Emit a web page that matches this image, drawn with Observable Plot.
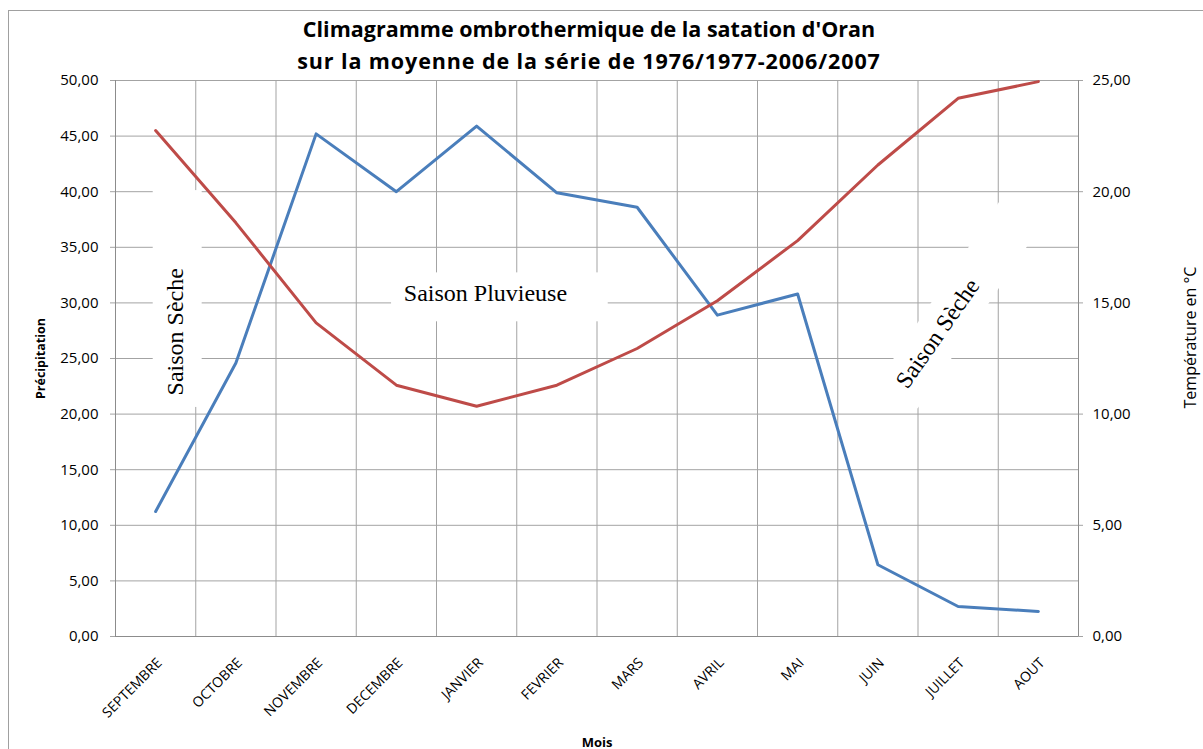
<!DOCTYPE html>
<html><head><meta charset="utf-8">
<script src="https://cdn.jsdelivr.net/npm/d3@7"></script>
<script src="https://cdn.jsdelivr.net/npm/@observablehq/plot@0.6"></script>
<style>
html,body{margin:0;padding:0;background:#fff;overflow:hidden;width:1203px;height:749px;}
#frame{position:absolute;left:8px;top:10px;width:1400px;height:1000px;border:1px solid #a0a0a0;box-sizing:border-box}
#chart{position:absolute;left:0;top:0;width:1203px;}
#title{height:76px;box-sizing:border-box;padding-top:13px;width:1178px;text-align:center;font:bold 21.5px/32px "Open Sans";color:#000;white-space:nowrap}
#title .l2{letter-spacing:0.9px}
#chart svg{display:block;background:transparent}
</style></head>
<body><div id="frame"></div>
<div id="chart"><div id="title"><span class="l1">Climagramme ombrothermique de la satation d'Oran</span><br><span class="l2">sur la moyenne de la série de 1976/1977-2006/2007</span></div></div>
<script>
// ---- data ----
const months = ["SEPTEMBRE","OCTOBRE","NOVEMBRE","DECEMBRE","JANVIER","FEVRIER","MARS","AVRIL","MAI","JUIN","JUILLET","AOUT"];
const precipitation = [11.24, 24.6, 45.2, 40.0, 45.9, 39.9, 38.6, 28.9, 30.8, 6.45, 2.7, 2.25];
const temperature = [22.75, 18.6, 14.1, 11.3, 10.35, 11.3, 12.95, 15.1, 17.8, 21.2, 24.2, 24.95];
const precipTicks = [0, 5, 10, 15, 20, 25, 30, 35, 40, 45, 50];
const tempTicks = [0, 5, 10, 15, 20, 25];

const rows = months.map((m, i) => ({i, month: m, precip: precipitation[i], temp: temperature[i]}));
const fmt = d => d3.format(".2f")(d).replace(".", ",");
const tempToPrecip = t => t * 2;

const W = 1203, mL = 115, mR = 125, mT = 4, mB = 113, H = 749 - 76;
const unitPx = (W - mL - mR) / months.length;
const tickLen = 5 / unitPx;
const boundaries = d3.range(months.length + 1).map(k => k - 0.5);
const grid = "#a3a3a3";

const plot = Plot.plot({
  width: W, height: H,
  marginLeft: mL, marginRight: mR, marginTop: mT, marginBottom: mB,
  style: {fontFamily: "Open Sans", background: "transparent", overflow: "visible"},
  x: {domain: [-0.5, months.length - 0.5], axis: null},
  y: {domain: [0, 50], axis: null},
  marks: [
    Plot.ruleX(boundaries, {x: d => d, y1: 0, y2: 50, stroke: grid, strokeWidth: 1}),
    Plot.ruleY(precipTicks, {y: d => d, x1: -0.5 - tickLen, x2: months.length - 0.5, stroke: grid, strokeWidth: 1}),
    Plot.ruleY(tempTicks, {y: tempToPrecip, x1: months.length - 0.5, x2: months.length - 0.5 + tickLen, stroke: grid, strokeWidth: 1}),
    Plot.ruleY([0], {x1: -0.5, x2: months.length - 0.5, stroke: "#8c8c8c"}),
    Plot.ruleX([-0.5, months.length - 0.5], {y1: 0, y2: 50, stroke: "#8c8c8c"}),
    // white annotation boxes
    Plot.rect([{x1: -0.03, x2: 0.58, y1: 20.6, y2: 40.1}], {x1: "x1", x2: "x2", y1: "y1", y2: "y2", fill: "white"}),
    Plot.rect([{x1: 2.94, x2: 5.64, y1: 28.3, y2: 32.7}], {x1: "x1", x2: "x2", y1: "y1", y2: "y2", fill: "white"}),
    // tick labels
    Plot.text(precipTicks, {frameAnchor: "left", y: d => d, text: fmt, textAnchor: "end", dx: -17, fontSize: 15, fill: "#000"}),
    Plot.text(tempTicks, {frameAnchor: "right", y: tempToPrecip, text: fmt, textAnchor: "start", dx: 14, fontSize: 15, fill: "#000"}),
    Plot.text(rows, {x: "i", frameAnchor: "bottom", text: "month", rotate: -45, textAnchor: "end", lineAnchor: "middle", dx: 4, dy: 24, fontSize: 14, fill: "#000"}),
    // axis titles
    Plot.text(["Précipitation"], {frameAnchor: "left", textAnchor: "middle", lineAnchor: "middle", dx: -75, rotate: -90, fontSize: 12.5, fontWeight: "bold", fill: "#000"}),
    Plot.text(["Température en °C"], {frameAnchor: "right", textAnchor: "middle", lineAnchor: "middle", dx: 112, dy: -21, rotate: -90, fontSize: 16, fill: "#000"}),
    Plot.text(["Mois"], {frameAnchor: "bottom", textAnchor: "middle", dy: 110, fontSize: 13, fontWeight: "bold", fill: "#000"}),
    // annotations
    Plot.text(["Saison Sèche"], {x: 0.25, y: 27.4, rotate: -90, fontFamily: "Liberation Serif", fontSize: 24, fill: "#000"}),
    Plot.text(["Saison Pluvieuse"], {x: 4.11, y: 30.9, fontFamily: "Liberation Serif", fontSize: 24, fill: "#000"}),
    Plot.text(["Saison Sèche"], {x: 9.745, y: 27.25, rotate: -55, fontFamily: "Liberation Serif", fontSize: 24, fill: "#000"}),
    // series
    Plot.line(rows, {x: "i", y: "precip", stroke: "#4a7ebb", strokeWidth: 3}),
    Plot.line(rows, {x: "i", y: d => tempToPrecip(d.temp), stroke: "#be4b48", strokeWidth: 3})
  ]
});

document.getElementById("chart").appendChild(plot);

// rotated white box behind the right-hand annotation
const svg = plot.tagName.toLowerCase() === "svg" ? plot : plot.querySelector("svg");
const sx = plot.scale("x"), sy = plot.scale("y");
const cx = sx.apply(10.02), cy = sy.apply(29.86);
const r = document.createElementNS("http://www.w3.org/2000/svg", "rect");
r.setAttribute("x", -110); r.setAttribute("y", -24);
r.setAttribute("width", 220); r.setAttribute("height", 48);
r.setAttribute("fill", "white");
r.setAttribute("transform", `translate(${cx},${cy}) rotate(-56)`);
const texts = svg.querySelectorAll('g[aria-label="text"]');
const anchor = texts.length ? texts[0] : svg.querySelector('g[aria-label="line"]');
if (anchor) svg.insertBefore(r, anchor); else svg.appendChild(r);
</script>
</body></html>
